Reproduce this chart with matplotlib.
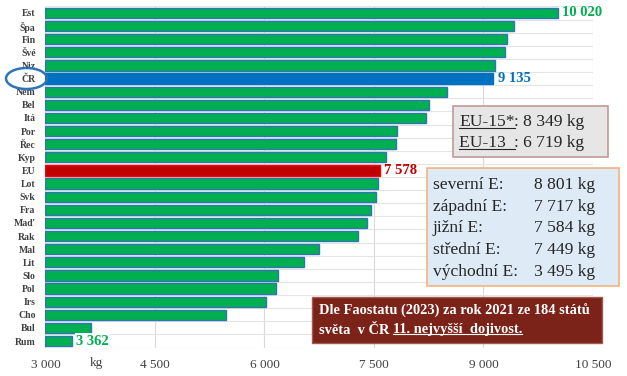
import matplotlib
matplotlib.use("Agg")
import matplotlib.pyplot as plt
from matplotlib.patches import Rectangle, Ellipse

plt.rcParams['font.family'] = ['Liberation Serif', 'DejaVu Serif']

countries = ["Est", "Špa", "Fin", "Švé", "Niz", "ČR", "Něm", "Bel", "Itá", "Por",
             "Řec", "Kyp", "EU", "Lot", "Svk", "Fra", "Maď", "Rak", "Mal", "Lit",
             "Slo", "Pol", "Irs", "Cho", "Bul", "Rum"]
milk_yield = [10020, 9418, 9322, 9299, 9154, 9135, 8494, 8254, 8209, 7816,
              7798, 7661, 7578, 7549, 7524, 7464, 7409, 7277, 6743, 6546,
              6182, 6158, 6017, 5474, 3625, 3362]
x_ticks = [3000, 4500, 6000, 7500, 9000, 10500]
x_tick_labels = ["3 000", "4 500", "6 000", "7 500", "9 000", "10 500"]

eu_groups = ["EU-15*", "EU-13  "]
eu_group_values = ["8 349 kg", "6 719 kg"]
regions = ["severní E:", "západní E:", "jižní E:", "střední E:", "východní E:"]
region_values = ["8 801 kg", "7 717 kg", "7 584 kg", "7 449 kg", "3 495 kg"]
note_lines = ["Dle Faostatu (2023) za rok 2021 ze 184 států", "světa  v ČR "]
note_underlined = "11. nejvyšší  dojivost."

GREEN = "#00B050"
BLUE = "#0070C0"
RED = "#C00000"

W, H = 627, 376
fig = plt.figure(figsize=(W / 100, H / 100), dpi=100)
ax = fig.add_axes([45.4 / W, (H - 347.6) / H, (593 - 45.4) / W, (347.6 - 6.4) / H])

n = len(countries)
ypos = list(range(n))
colors, edges = [], []
for c in countries:
    if c == "ČR":
        colors.append(BLUE); edges.append(BLUE)
    elif c == "EU":
        colors.append(RED); edges.append("#FF0000")
    else:
        colors.append(GREEN); edges.append("#2E75B6")

ax.barh(ypos, [v - 3000 for v in milk_yield], left=3000, height=0.78,
        color=colors, edgecolor=edges, linewidth=1.0, zorder=3)

ax.set_xlim(3000, 10500)
ax.set_ylim(n - 0.5, -0.5)
ax.set_yticks(ypos)
ax.set_yticklabels(countries, fontsize=7, fontweight='bold', color='#404040')
ax.set_xticks(x_ticks)
ax.set_xticklabels(x_tick_labels, fontsize=9.5, color='#404040')
ax.tick_params(axis='both', length=0)
ax.tick_params(axis='y', pad=7)
ax.tick_params(axis='x', pad=8)
for s in ax.spines.values():
    s.set_visible(False)
ax.set_yticks([i + 0.5 for i in range(-1, n)], minor=True)
ax.grid(axis='x', which='major', color='#D9D9D9', lw=0.8, zorder=0)
ax.grid(axis='y', which='minor', color='#E4E4E4', lw=0.8, zorder=0)
ax.grid(axis='y', which='major', visible=False)
ax.tick_params(axis='y', which='minor', length=0)

def fmt(v):
    return f"{v:,}".replace(",", " ")

value_colors = {"Est": GREEN, "ČR": BLUE, "EU": RED, "Rum": GREEN}
for i, (c, v) in enumerate(zip(countries, milk_yield)):
    if c in value_colors:
        kw = {}
        if c == "Rum":
            kw['bbox'] = dict(facecolor='white', edgecolor='none', pad=1)
        ax.text(v + 60, i, fmt(v), ha='left', va='center', fontsize=10.5,
                fontweight='bold', color=value_colors[c], zorder=5, **kw)

# overlay in pixel coordinates for annotation boxes
ov = fig.add_axes([0, 0, 1, 1])
ov.set_xlim(0, W)
ov.set_ylim(H, 0)
ov.axis('off')

ov.text(96, 363, "kg", ha='center', va='center', fontsize=9.5, color='#404040')

ov.add_patch(Ellipse((26.5, 78.5), 41, 21, fill=False, edgecolor='#2E75B6', lw=1.8))

renderer = fig.canvas.get_renderer()

def underline(t, color, lw=0.8, dy=0.0):
    bb = t.get_window_extent(renderer=renderer)
    y = H - bb.y0 + dy
    ov.plot([bb.x0, bb.x1], [y, y], color=color, lw=lw)

BOX_FS = 12.6

# EU-15 / EU-13 box
ov.add_patch(Rectangle((453, 106), 155, 51, facecolor='#E7E6E6', edgecolor='#C49A9A', lw=1.2))
for k, (g, val) in enumerate(zip(eu_groups, eu_group_values)):
    y = 122 + k * 21
    t = ov.text(459, y, g, ha='left', va='center', fontsize=BOX_FS, color='#262626')
    underline(t, '#262626', dy=-2.5)
    bb = t.get_window_extent(renderer=renderer)
    ov.text(bb.x1, y, ": " + val, ha='left', va='center', fontsize=BOX_FS, color='#262626')

# regional averages box
ov.add_patch(Rectangle((427, 168), 192, 118, facecolor='#DEEBF7', edgecolor='#F4B183', lw=1.2))
for k, (r, val) in enumerate(zip(regions, region_values)):
    y = 185 + k * 21.7
    ov.text(433, y, r, ha='left', va='center', fontsize=BOX_FS, color='#262626')
    ov.text(595, y, val, ha='right', va='center', fontsize=BOX_FS, color='#262626')

# note box
NOTE_FS = 10.4
ov.add_patch(Rectangle((312, 297), 290, 46, facecolor='#7B2318', edgecolor='#A05A50', lw=1))
ov.text(319, 311, note_lines[0], ha='left', va='center', fontsize=NOTE_FS,
        fontweight='bold', color='white')
t = ov.text(319, 330, note_lines[1], ha='left', va='center', fontsize=NOTE_FS,
            fontweight='bold', color='white')
bb = t.get_window_extent(renderer=renderer)
t2 = ov.text(bb.x1, 330, note_underlined, ha='left', va='center', fontsize=NOTE_FS,
             fontweight='bold', color='white')
underline(t2, 'white', lw=0.8, dy=-2.5)

fig.savefig("out.png", dpi=100)
